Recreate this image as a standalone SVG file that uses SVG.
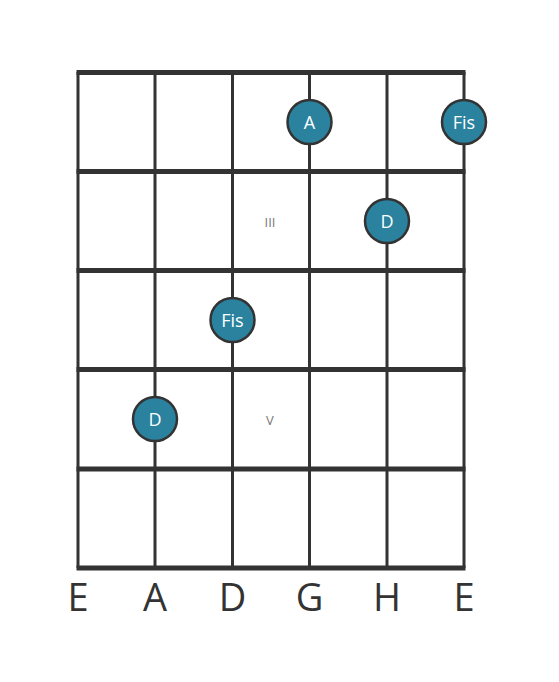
<svg xmlns="http://www.w3.org/2000/svg" width="559" height="682" viewBox="0 0 559 682">
<style>
.str{stroke:#333;stroke-width:3}
.fret{stroke:#333;stroke-width:5}
.dot{fill:#2a829f;stroke:#333;stroke-width:2.5}
.nt{fill:#fff;font-family:"Open Sans","Noto Sans",sans-serif;font-size:18px;text-anchor:middle;dominant-baseline:central}
.pos{fill:#777;font-family:"Open Sans","Noto Sans",sans-serif;font-size:13px;text-anchor:middle;dominant-baseline:central}
.sn{fill:#333;font-family:"Open Sans","Noto Sans",sans-serif;font-size:38px;text-anchor:middle}
</style>
<rect width="559" height="682" fill="#fff"/>
<g id="strings">
<line class="str" x1="78" y1="72" x2="78" y2="568"/>
<line class="str" x1="155" y1="72" x2="155" y2="568"/>
<line class="str" x1="232.5" y1="72" x2="232.5" y2="568"/>
<line class="str" x1="309.5" y1="72" x2="309.5" y2="568"/>
<line class="str" x1="387" y1="72" x2="387" y2="568"/>
<line class="str" x1="464" y1="72" x2="464" y2="568"/>
</g>
<g id="frets">
<line class="fret" x1="76.5" y1="72.5" x2="465.5" y2="72.5"/>
<line class="fret" x1="76.5" y1="171.5" x2="465.5" y2="171.5"/>
<line class="fret" x1="76.5" y1="270.5" x2="465.5" y2="270.5"/>
<line class="fret" x1="76.5" y1="369.5" x2="465.5" y2="369.5"/>
<line class="fret" x1="76.5" y1="469" x2="465.5" y2="469"/>
<line class="fret" x1="76.5" y1="568" x2="465.5" y2="568"/>
</g>
<g id="positions">
<text class="pos" x="270" y="222">III</text>
<text class="pos" x="270" y="420">V</text>
</g>
<g id="n1"><circle class="dot" cx="309.5" cy="122" r="22"/><text class="nt" x="309.5" y="122">A</text></g>
<g id="n2"><circle class="dot" cx="464" cy="122" r="22"/><text class="nt" x="464" y="122">Fis</text></g>
<g id="n3"><circle class="dot" cx="387" cy="221" r="22"/><text class="nt" x="387" y="221">D</text></g>
<g id="n4"><circle class="dot" cx="232.5" cy="320" r="22"/><text class="nt" x="232.5" y="320">Fis</text></g>
<g id="n5"><circle class="dot" cx="155" cy="419" r="22"/><text class="nt" x="155" y="419">D</text></g>
<g id="labels">
<text class="sn" x="78" y="611">E</text>
<text class="sn" x="155" y="611">A</text>
<text class="sn" x="232.5" y="611">D</text>
<text class="sn" x="309.5" y="611">G</text>
<text class="sn" x="387" y="611">H</text>
<text class="sn" x="464" y="611">E</text>
</g>
</svg>
